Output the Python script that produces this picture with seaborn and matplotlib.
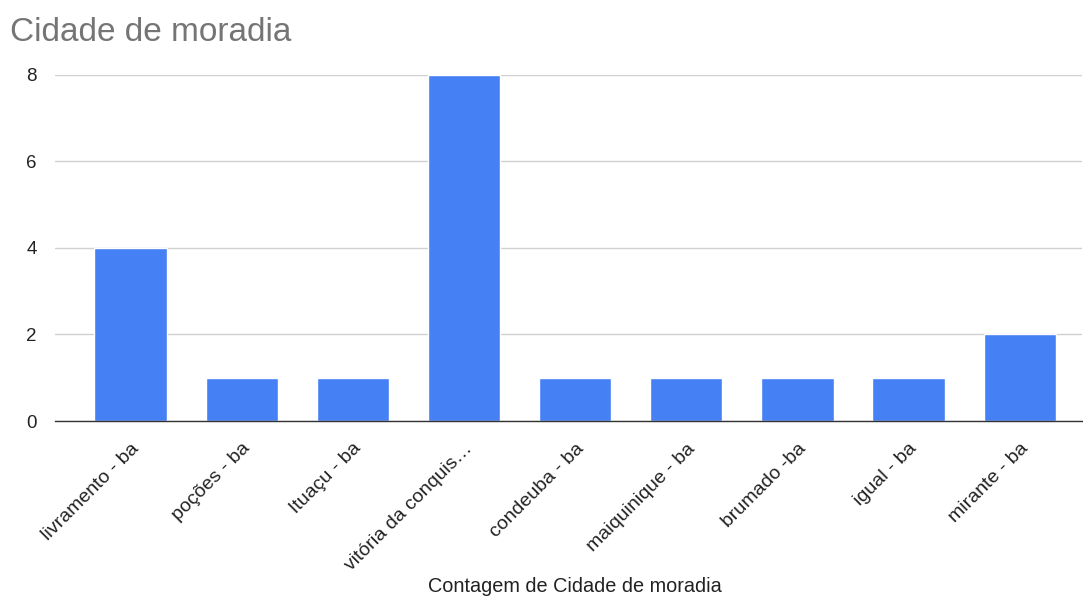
import matplotlib
matplotlib.use("Agg")
import matplotlib.pyplot as plt
import matplotlib.transforms as mtransforms
import seaborn as sns
import pandas as pd

cidades = ["livramento - ba", "poções - ba", "Ituaçu - ba", "vitória da conquis…",
           "condeuba - ba", "maiquinique - ba", "brumado -ba", "igual - ba", "mirante - ba"]
contagem = [4, 1, 1, 8, 1, 1, 1, 1, 2]
y_ticks = [0, 2, 4, 6, 8]

sns.set_theme(style="white")
plt.rcParams["font.family"] = ["Liberation Sans", "DejaVu Sans"]

df = pd.DataFrame({"cidade": cidades, "contagem": contagem})

fig = plt.figure(figsize=(10.83, 5.97), dpi=100)
ax = fig.add_axes([0.0508, 0.2948, 0.9482, 0.5796])

sns.barplot(data=df, x="cidade", y="contagem", color="#4580f4", saturation=1,
            width=0.65, ax=ax, zorder=3)

ax.set_ylim(0, 8)
ax.set_xlim(-0.68, 8.56)
ax.set_yticks(y_ticks)
ax.set_yticklabels([str(v) for v in y_ticks], fontsize=13.5, color="#222222")
ax.yaxis.grid(True, color="#d0d0d0", linewidth=1, zorder=0)
ax.tick_params(axis="y", length=0, pad=13)
ax.tick_params(axis="x", length=0, pad=18)

for s in ["top", "right", "left"]:
    ax.spines[s].set_visible(False)
ax.spines["bottom"].set_color("#333333")
ax.spines["bottom"].set_linewidth(1)
ax.spines["bottom"].set_zorder(4)

ax.set_xticks(range(len(cidades)))
ax.set_xticklabels(cidades, rotation=45, ha="right", va="center",
                   rotation_mode="anchor", fontsize=14, color="#222222")
# nudge the rotated labels slightly to the right
shift = mtransforms.ScaledTranslation(6 / 100, 0, fig.dpi_scale_trans)
for lbl in ax.get_xticklabels():
    lbl.set_transform(lbl.get_transform() + shift)

ax.set_ylabel("")
ax.set_xlabel("Contagem de Cidade de moradia", fontsize=14.3, color="#222222",
              va="center")
ax.xaxis.set_label_coords(0.506, -0.478)

fig.text(0.009, 0.945, "Cidade de moradia", fontsize=24, color="#757575",
         ha="left", va="center")

fig.savefig("out.png", dpi=100)
